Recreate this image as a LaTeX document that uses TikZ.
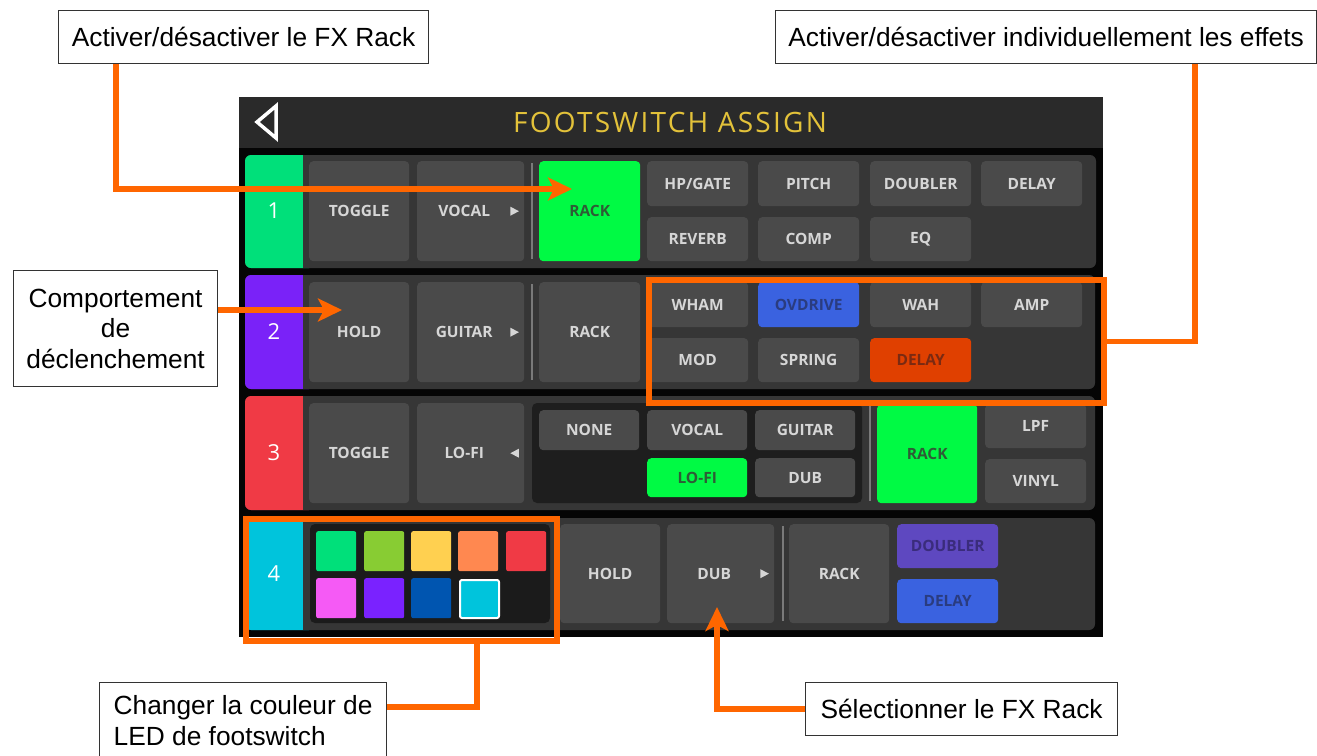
\documentclass[tikz,border=0pt]{standalone}
\usepackage{fontspec}
\setmainfont{Liberation Sans}
\newfontfamily\uifont{Open Sans}
\newfontfamily\titlefont{Open Sans}[LetterSpace=8]
\usetikzlibrary{arrows.meta,calc}
\definecolor{orng}{HTML}{FF6600}
\definecolor{scrbg}{HTML}{050505}
\definecolor{hdr}{HTML}{2A2A2A}
\definecolor{pnl}{HTML}{363636}
\definecolor{btnc}{HTML}{4A4A4A}
\definecolor{btntxt}{HTML}{D6D6D6}
\definecolor{subp}{HTML}{1E1E1E}
\definecolor{sepc}{HTML}{7A7A7A}
\definecolor{ttl}{HTML}{E3C23A}
\definecolor{tabA}{HTML}{00E07A}
\definecolor{tabB}{HTML}{7A22F8}
\definecolor{tabC}{HTML}{F03A45}
\definecolor{tabD}{HTML}{00C4DC}
\definecolor{rgreen}{HTML}{00FA44}
\definecolor{rgreentxt}{HTML}{2E5C36}
\definecolor{ovblue}{HTML}{3A62E0}
\definecolor{ovbluetxt}{HTML}{2A3C80}
\definecolor{dlyor}{HTML}{E04000}
\definecolor{dlyortxt}{HTML}{7A2A12}
\definecolor{dbpur}{HTML}{5E48C0}
\definecolor{dbpurtxt}{HTML}{3A2C7C}
\definecolor{swA}{HTML}{00E07A}
\definecolor{swB}{HTML}{88CC33}
\definecolor{swC}{HTML}{FFD050}
\definecolor{swD}{HTML}{FF8850}
\definecolor{swE}{HTML}{F03A45}
\definecolor{swF}{HTML}{F55AF5}
\definecolor{swG}{HTML}{7A22FF}
\definecolor{swH}{HTML}{0055B0}
\definecolor{swI}{HTML}{00C4DC}
\tikzset{
  btn/.style={fill=btnc, rounded corners=4pt, text=btntxt, inner sep=0pt, anchor=north west,
    font=\uifont\bfseries\fontsize{15.5}{18}\selectfont},
  gbtn/.style={btn, fill=rgreen, text=rgreentxt},
  bbtn/.style={btn, fill=ovblue, text=ovbluetxt},
  obtn/.style={btn, fill=dlyor, text=dlyortxt},
  pbtn/.style={btn, fill=dbpur, text=dbpurtxt},
  swatch/.style={rounded corners=2pt, inner sep=0pt, anchor=north west, minimum width=40pt, minimum height=40pt},
  callout/.style={draw=black!80, line width=1.2pt, fill=white, inner sep=0pt, anchor=north west,
    font=\fontsize{26.3}{30.5}\selectfont},
  hl/.style={draw=orng, line width=5.5pt, inner sep=0pt, anchor=north west},
  conn/.style={draw=orng, line width=5.5pt},
  connarrow/.style={conn, -{Stealth[length=24pt,width=23pt,inset=6pt]}},
  numtxt/.style={text=white, font=\uifont\fontsize{22}{24}\selectfont},
  sepline/.style={draw=sepc, line width=1.4pt},
  trimark/.style={fill=btntxt}
}
\newcommand\ubtn[7]{\node[#2, minimum width={(#5-#3)*1pt}, minimum height={(#6-#4)*1pt}] (#1) at (#3,#4) {#7};}
\newcommand\rowpanel[5]{%
  \fill[pnl, rounded corners=6pt] (#1,#2) rectangle (#3,#4);
  \fill[#5, rounded corners=6pt] (#1,#2) rectangle (#1+70,#4);
  \fill[pnl] (#1+58,#2) rectangle (#1+80,#4);}
\begin{document}
\begin{tikzpicture}[x=1pt,y=-1pt]
\useasboundingbox (0,0) rectangle (1317,755);
\fill[white] (0,0) rectangle (1317,755);
% screen
\fill[scrbg] (239,97) rectangle (1103,637);
\fill[hdr] (239,97) rectangle (1103,148);
\draw[white, line width=3.5pt, line join=miter] (257,122) -- (276,106) -- (276,138) -- cycle;
\node[text=ttl, font=\titlefont\fontsize{28}{30}\selectfont, inner sep=0pt] (title) at (670,122) {FOOTSWITCH ASSIGN};
% row panels
\rowpanel{245}{155}{1096}{268}{tabA}
\rowpanel{245}{275}{1095}{389}{tabB}
\rowpanel{245}{396}{1095}{510}{tabC}
\rowpanel{245}{518}{1095}{630}{tabD}
\node[numtxt] (n1) at (274,211) {1};
\node[numtxt] (n2) at (274,332) {2};
\node[numtxt] (n3) at (274,453) {3};
\node[numtxt] (n4) at (274,574) {4};
% row 1
\ubtn{a1}{btn}{309}{161}{409}{261}{TOGGLE}
\ubtn{a2}{btn}{417}{161}{524}{261}{VOCAL\hspace*{13pt}}
\draw[sepline] (532,163) -- (532,259);
\ubtn{a3}{gbtn}{539}{161}{640}{261}{RACK}
\ubtn{a4}{btn}{647}{161}{748}{206}{HP/GATE}
\ubtn{a5}{btn}{758}{161}{859}{206}{PITCH}
\ubtn{a6}{btn}{870}{161}{971}{206}{DOUBLER}
\ubtn{a7}{btn}{981}{161}{1082}{206}{DELAY}
\ubtn{a8}{btn}{647}{217}{748}{261}{REVERB}
\ubtn{a9}{btn}{758}{217}{859}{261}{COMP}
\ubtn{a10}{btn}{870}{217}{971}{261}{EQ}
\fill[trimark] ($(a2.east)+(-14,-4.5)$) -- ++(0,9) -- ++(8.5,-4.5) -- cycle;
% row 2
\ubtn{b1}{btn}{309}{282}{409}{382}{HOLD}
\ubtn{b2}{btn}{417}{282}{524}{382}{GUITAR\hspace*{13pt}}
\draw[sepline] (532,284) -- (532,380);
\ubtn{b3}{btn}{539}{282}{640}{382}{RACK}
\ubtn{b4}{btn}{647}{282}{748}{327}{WHAM}
\ubtn{b5}{bbtn}{758}{282}{859}{327}{OVDRIVE}
\ubtn{b6}{btn}{870}{282}{971}{327}{WAH}
\ubtn{b7}{btn}{981}{282}{1082}{327}{AMP}
\ubtn{b8}{btn}{647}{338}{748}{382}{MOD}
\ubtn{b9}{btn}{758}{338}{859}{382}{SPRING}
\ubtn{b10}{obtn}{870}{338}{971}{382}{DELAY}
\fill[trimark] ($(b2.east)+(-14,-4.5)$) -- ++(0,9) -- ++(8.5,-4.5) -- cycle;
% row 3
\ubtn{c1b}{btn}{309}{403}{409}{503}{TOGGLE}
\ubtn{c2b}{btn}{417}{403}{524}{503}{LO-FI\hspace*{13pt}}
\fill[trimark] ($(c2b.east)+(-5.5,-4.5)$) -- ++(0,9) -- ++(-8.5,-4.5) -- cycle;
\fill[subp, rounded corners=5pt] (532,403) rectangle (862,503);
\ubtn{c3b}{btn}{539}{410}{639}{450}{NONE}
\ubtn{c4b}{btn}{647}{410}{747}{450}{VOCAL}
\ubtn{c5b}{btn}{755}{410}{855}{450}{GUITAR}
\ubtn{c6b}{gbtn}{647}{458}{747}{497}{LO-FI}
\ubtn{c7b}{btn}{755}{458}{855}{497}{DUB}
\draw[sepline] (870,406) -- (870,501);
\ubtn{c8b}{gbtn}{877}{404}{977}{503}{RACK}
\ubtn{c9b}{btn}{985}{404}{1086}{448}{LPF}
\ubtn{c10b}{btn}{985}{459}{1086}{503}{VINYL}
% row 4
\fill[subp!90!black, rounded corners=5pt] (310,524) rectangle (550,623);
\node[swatch, fill=swA] (sw1) at (316,531) {};
\node[swatch, fill=swB] (sw2) at (364,531) {};
\node[swatch, fill=swC] (sw3) at (411,531) {};
\node[swatch, fill=swD] (sw4) at (458,531) {};
\node[swatch, fill=swE] (sw5) at (506,531) {};
\node[swatch, fill=swF] (sw6) at (316,578) {};
\node[swatch, fill=swG] (sw7) at (364,578) {};
\node[swatch, fill=swH] (sw8) at (411,578) {};
\node[swatch, fill=swI, draw=white, line width=2pt, minimum width=39pt, minimum height=38pt] (sw9) at (459,579) {};
\ubtn{d1}{btn}{560}{524}{660}{623}{HOLD}
\ubtn{d2}{btn}{667}{524}{774}{623}{DUB\hspace*{13pt}}
\fill[trimark] ($(d2.east)+(-14,-4.5)$) -- ++(0,9) -- ++(8.5,-4.5) -- cycle;
\draw[sepline] (783,526) -- (783,621);
\ubtn{d3}{btn}{789}{524}{889}{623}{RACK}
\ubtn{d4}{pbtn}{897}{524}{998}{568}{DOUBLER}
\ubtn{d5}{bbtn}{897}{579}{998}{623}{DELAY}
% highlight boxes
\node[hl, minimum width=455pt, minimum height=123pt] (hl2) at (646,277) {};
\node[hl, minimum width=311pt, minimum height=122pt] (hl4) at (243,516) {};
% callouts
\node[callout, minimum width=370pt, minimum height=53pt] (k1) at (58,10) {Activer/désactiver le FX Rack};
\node[callout, minimum width=541pt, minimum height=53pt] (k5) at (775,10) {Activer/désactiver individuellement les effets};
\node[callout, minimum width=204pt, minimum height=116pt, align=center] (k2) at (13,270) {Comportement\\de\\déclenchement};
\node[callout, minimum width=287pt, minimum height=76pt, align=left] (k3) at (99,682) {Changer la couleur de\\LED de footswitch};
\node[callout, minimum width=312pt, minimum height=53pt] (k4) at (805,682) {Sélectionner le FX Rack};
% connector coordinates
\coordinate (t1) at (572,189);
\coordinate (t2) at (342,310);
\coordinate (t4) at (717,607);
\coordinate (x3) at (477,0);
\coordinate (x5) at (1195,0);
\draw[connarrow] ([xshift=58pt]k1.south west) |- (t1);
\draw[connarrow] (k2.east |- t2) -- (t2);
\draw[connarrow] (k4.west) -| (t4);
\draw[conn] ([yshift=-25pt]k3.north east) -| (hl4.south -| x3);
\draw[conn] (k5.south -| x5) |- (hl2.east);
\end{tikzpicture}
\end{document}
